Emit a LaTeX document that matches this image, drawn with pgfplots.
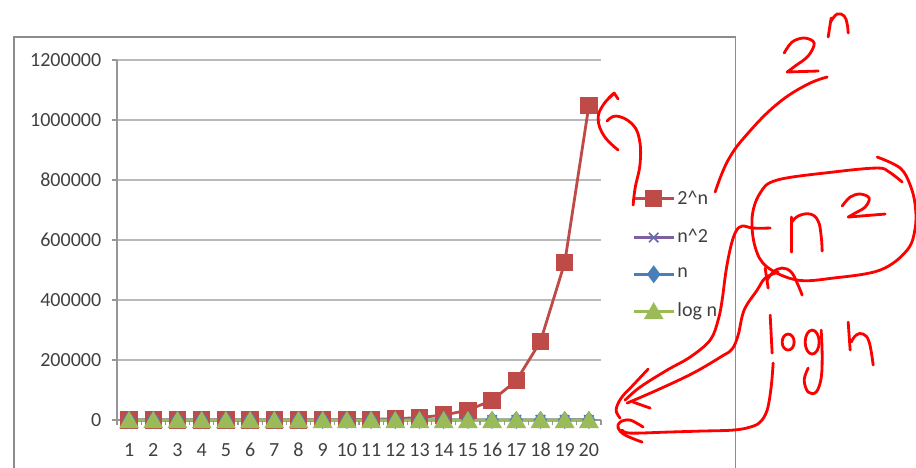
\documentclass[border=0pt]{standalone}
\usepackage{fontspec}
\setmainfont{Carlito}
\usepackage{pgfplots}
\pgfplotsset{compat=1.18}

\definecolor{sRed}{RGB}{190,75,72}
\definecolor{sPurple}{RGB}{125,96,160}
\definecolor{sBlue}{RGB}{74,126,187}
\definecolor{sGreen}{RGB}{155,187,89}
\definecolor{txt}{RGB}{64,64,64}
\definecolor{gridc}{RGB}{185,185,185}
\definecolor{axisc}{RGB}{150,150,150}
\definecolor{framec}{RGB}{140,140,140}
\definecolor{ink}{RGB}{255,0,0}

\pgfplotsset{
  longlegend/.style={
    legend image code/.code={
      \draw[mark repeat=2,mark phase=2,##1]
        plot coordinates {(0cm,0cm) (0.4cm,0cm) (0.8cm,0cm)};
    }
  }
}

\begin{document}
\begin{tikzpicture}
% page: 916 x 467 units of 0.02cm
\useasboundingbox (0,0) rectangle (18.32cm,-9.34cm);

\begin{scope}[x=0.02cm,y=-0.02cm]
  % chart frame
  \draw[framec, line width=0.6pt] (14,470) -- (14,37) -- (735,37) -- (735,470);
\end{scope}

\begin{axis}[
  at={(2.34cm,-8.4cm)}, anchor=south west,
  scale only axis, width=9.68cm, height=7.2cm,
  xmin=0.5, xmax=20.5, ymin=0, ymax=1200000,
  clip=false,
  axis lines=left,
  axis line style={-, axisc, line width=0.7pt},
  xtick={1,...,20},
  minor xtick={0.5,1.5,...,20.5},
  major x tick style={draw=none},
  minor x tick style={axisc, line width=0.6pt},
  minor tick length=0.1cm,
  ytick={0,200000,...,1200000},
  major y tick style={axisc, line width=0.6pt},
  major tick length=0.1cm,
  tick align=outside,
  ymajorgrids,
  grid style={gridc, line width=0.7pt},
  scaled y ticks=false,
  /pgf/number format/assume math mode=true,
  yticklabel={\pgfmathprintnumber[fixed,1000 sep={}]{\tick}},
  ticklabel style={font=\fontsize{11.4}{13}\selectfont, text=txt},
  yticklabel style={xshift=-2.6pt},
  xticklabel style={yshift=-6.8pt},
  legend style={at={(1.064,0.458)}, anchor=west, draw=none, fill=none,
    font=\fontsize{11.4}{13}\selectfont, text=txt,
    inner sep=0pt, row sep=10.8pt,
    nodes={inner sep=1pt},
    /tikz/every odd column/.append style={column sep=0.3pt}},
  legend cell align=left,
]
\addplot[sRed, line width=1.6pt, mark=square*, mark size=4.1pt,
  mark options={solid, fill=sRed}, longlegend] coordinates {
  (1,2) (2,4) (3,8) (4,16) (5,32) (6,64) (7,128) (8,256) (9,512) (10,1024)
  (11,2048) (12,4096) (13,8192) (14,16384) (15,32768) (16,65536)
  (17,131072) (18,262144) (19,524288) (20,1048576)};
\addlegendentry{2\textasciicircum n}
\addplot[sPurple, line width=1.6pt, mark=x, mark size=3.8pt,
  mark options={solid, line width=1pt, draw=sBlue!60!sPurple},
  longlegend] coordinates {
  (1,1) (2,4) (3,9) (4,16) (5,25) (6,36) (7,49) (8,64) (9,81) (10,100)
  (11,121) (12,144) (13,169) (14,196) (15,225) (16,256) (17,289)
  (18,324) (19,361) (20,400)};
\addlegendentry{n\textasciicircum 2}
\addplot[sBlue, line width=1.6pt, mark=diamond*, mark size=3.8pt,
  mark options={solid, fill=sBlue}, longlegend] coordinates {
  (1,1) (2,2) (3,3) (4,4) (5,5) (6,6) (7,7) (8,8) (9,9) (10,10)
  (11,11) (12,12) (13,13) (14,14) (15,15) (16,16) (17,17) (18,18)
  (19,19) (20,20)};
\addlegendentry{n}
\addplot[sGreen, line width=1.6pt, mark=triangle*, mark size=4.9pt,
  mark options={solid, fill=sGreen, yshift=-1.3pt}, longlegend] coordinates {
  (1,0) (2,0.301) (3,0.477) (4,0.602) (5,0.699) (6,0.778) (7,0.845)
  (8,0.903) (9,0.954) (10,1) (11,1.041) (12,1.079) (13,1.114)
  (14,1.146) (15,1.176) (16,1.204) (17,1.230) (18,1.255) (19,1.279)
  (20,1.301)};
\addlegendentry{log n}
\end{axis}

% hand-written notes over the chart
\begin{scope}[x=0.02cm,y=-0.02cm, ink, line width=1.6pt,
  line cap=round, line join=round]
  % "2^n" at the top
  \draw plot[smooth, tension=0.6] coordinates {(784,53) (792,42) (804,38)
    (814,43) (808,56) (795,66) (787,72)} -- (818,71);
  \draw (828,37) -- (831,18);
  \draw plot[smooth, tension=0.7] coordinates {(831,21) (837,14) (844,16)
    (847,24) (848,33)};
  \draw plot[smooth, tension=0.7] coordinates {(827,77) (806,85) (777,104)
    (748,133) (728,160) (715,192)};
  % arrow up to the last point of 2^n
  \draw plot[smooth, tension=0.7] coordinates {(633,205) (635,188)
    (640,163) (639,138) (631,123) (616,116) (607,121)};
  \draw plot[smooth, tension=0.7] coordinates {(618,150) (604,136)
    (598,119) (603,105) (613,94)};
  \draw (609,98) -- (614,93) -- (618,99);
  % circled n^2
  \draw plot[smooth, tension=0.6] coordinates {(902,182) (889,172)
    (877,168) (833,172) (777,180) (760,193) (752,217) (755,247) (767,267)
    (797,280) (833,278) (880,270) (907,250) (915,228) (915,205) (910,185)
    (900,168) (877,157)};
  \draw (791,252) -- (791,217);
  \draw plot[smooth, tension=0.7] coordinates {(791,223) (798,216)
    (810,214) (818,221) (821,236) (822,251)};
  \draw plot[smooth, tension=0.6] coordinates {(842,206) (850,197)
    (860,194) (869,198) (865,207) (855,213) (848,217)} -- (885,214);
  % lines from n^2 down to the flat series
  \draw plot[smooth, tension=0.6] coordinates {(770,228) (753,228)
    (742,226) (736,231) (731,245) (726,270) (722,300) (718,320) (710,340)
    (690,357) (667,370) (640,387) (625,400)};
  \draw (765,268) -- (768,288);
  \draw plot[smooth, tension=0.7] coordinates {(767,280) (773,272)
    (782,268) (791,272) (797,283) (802,295)};
  \draw plot[smooth, tension=0.6] coordinates {(778,272) (765,278)
    (757,290) (744,310) (738,335) (732,349) (722,356) (693,373) (657,390)
    (627,403)};
  % arrow heads at zero
  \draw plot[smooth, tension=0.6] coordinates {(648,369) (633,385)
    (621,398) (616,410) (620,418)};
  \draw (633,402) -- (650,408);
  \draw plot[smooth, tension=0.6] coordinates {(643,427) (630,420)
    (620,422) (618,428) (625,435) (642,442)};
  % "log h" and its line
  \draw plot[smooth, tension=0.6] coordinates {(773,363) (771,387)
    (767,410) (760,422) (750,427) (733,430) (700,431) (667,432) (630,433)
    (622,430)};
  \draw (770,315) -- (772,353);
  \draw (788,342) ellipse [x radius=6, y radius=8];
  \draw (812,342) ellipse [x radius=7, y radius=12];
  \draw plot[smooth, tension=0.6] coordinates {(821,330) (822,355)
    (821,378) (816,392) (808,392) (804,380) (808,368)};
  \draw (848,322) -- (850,350);
  \draw plot[smooth, tension=0.7] coordinates {(851,342) (856,335)
    (863,334) (869,342) (873,365)};
\end{scope}
\end{tikzpicture}
\end{document}
